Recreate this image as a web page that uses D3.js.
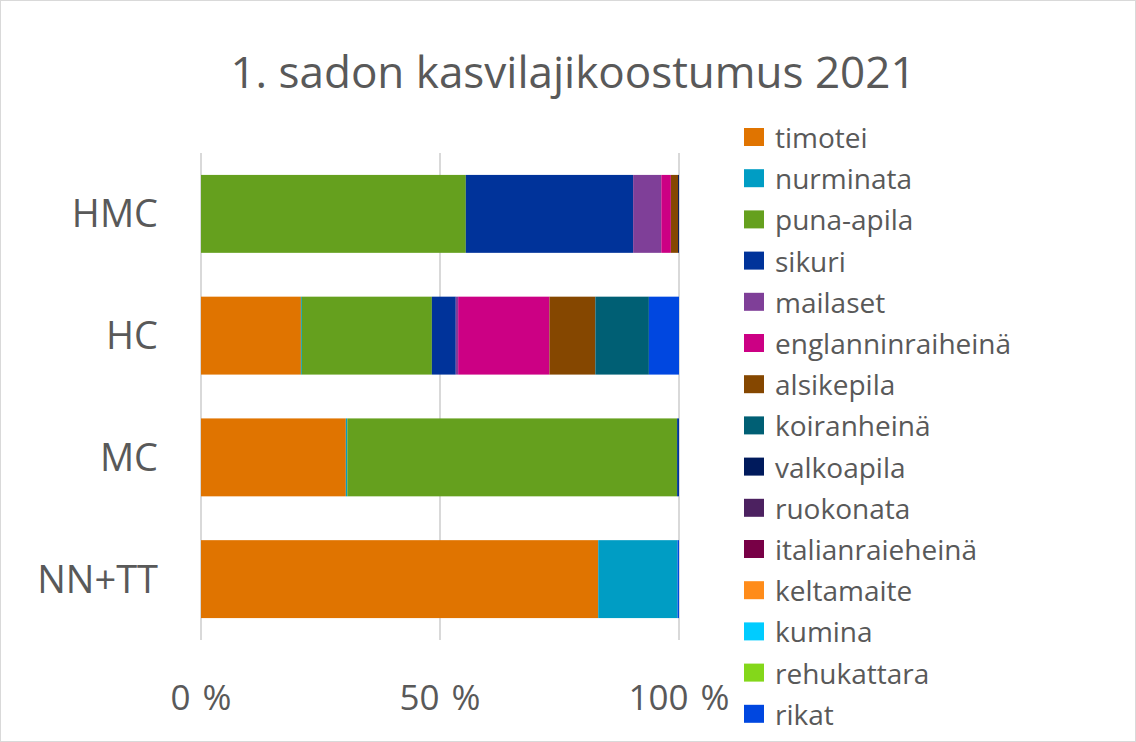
<!DOCTYPE html>
<html><head><meta charset="utf-8">
<script src="https://cdn.jsdelivr.net/npm/d3@7"></script>
<style>body{margin:0;background:#fff;} svg{display:block;font-family:"Open Sans","Noto Sans",sans-serif;}</style>
</head><body>
<svg id="c" width="1136" height="742"></svg>
<script>
const categories = ["HMC","HC","MC","NN+TT"];
const species = ["timotei","nurminata","puna-apila","sikuri","mailaset","englanninraiheinä","alsikepila","koiranheinä","valkoapila","ruokonata","italianraieheinä","keltamaite","kumina","rehukattara","rikat"];
const colors = ["#E07400","#009DC4","#65A01E","#00339A","#7F3F98","#CC0084","#854700","#005F74","#001A5C","#4C2160","#780046","#FF8C1A","#00CCFF","#84D71A","#0047E0"];
// values in % per category, order as species
const timotei          = [0,    20.9, 30.3, 83.1];
const nurminata        = [0,    0.2,  0.3,  16.6];
const punaApila        = [55.4, 27.2, 69.0, 0];
const sikuri           = [35.0, 5.0,  0.4,  0];
const mailaset         = [5.9,  0.5,  0,    0];
const englanninraiheina= [2.0,  19.1, 0,    0];
const alsikepila       = [1.5,  9.6,  0,    0];
const koiranheina      = [0,    11.2, 0,    0];
const valkoapila       = [0.2,  0,    0,    0];
const ruokonata        = [0,    0,    0,    0];
const italianraieheina = [0,    0,    0,    0];
const keltamaite       = [0,    0,    0,    0];
const kumina           = [0,    0,    0,    0];
const rehukattara      = [0,    0,    0,    0];
const rikat            = [0,    6.3,  0,    0.3];
const tickLabels = ["0 %","50 %","100 %"];
const title = "1. sadon kasvilajikoostumus 2021";

const seriesVals = [timotei,nurminata,punaApila,sikuri,mailaset,englanninraiheina,alsikepila,koiranheina,valkoapila,ruokonata,italianraieheina,keltamaite,kumina,rehukattara,rikat];
const rows = categories.map((c,i)=>{const r={cat:c}; species.forEach((s,j)=>r[s]=seriesVals[j][i]); return r;});
const stacked = d3.stack().keys(species).offset(d3.stackOffsetExpand)(rows);

const svg = d3.select("#c");
svg.append("rect").attr("x",0.5).attr("y",0.5).attr("width",1135).attr("height",741).attr("fill","#fff").attr("stroke","#d9d9d9");

const x = d3.scaleLinear().domain([0,1]).range([201,679]);
const y = d3.scaleBand().domain(categories).range([153,640]).paddingInner(0.36).paddingOuter(0.18);

// gridlines
svg.append("g").selectAll("line").data([0,0.5,1]).join("line")
  .attr("x1",d=>x(d)).attr("x2",d=>x(d)).attr("y1",153).attr("y2",640)
  .attr("stroke","#d9d9d9").attr("stroke-width",2);

svg.append("g").selectAll("g").data(stacked).join("g")
  .attr("fill",(d,i)=>colors[i])
  .selectAll("rect").data(d=>d).join("rect")
  .attr("x",d=>x(d[0])).attr("width",d=>Math.max(0,x(d[1])-x(d[0])))
  .attr("y",d=>y(d.data.cat)).attr("height",y.bandwidth());

// category labels
svg.append("g").selectAll("text").data(categories).join("text")
  .attr("x",158).attr("y",d=>y(d)+y.bandwidth()/2+13.5)
  .attr("text-anchor","end").attr("font-size",38).attr("fill","#595959").text(d=>d);

// x tick labels
svg.append("g").selectAll("text").data([0,0.5,1]).join("text")
  .attr("x",d=>x(d)).attr("y",710)
  .attr("text-anchor","middle").attr("font-size",35).attr("fill","#595959")
  .attr("word-spacing","3").text((d,i)=>tickLabels[i]);

svg.append("text").attr("x",573).attr("y",88).attr("text-anchor","middle")
  .attr("font-size",44).attr("fill","#595959").text(title);

// legend
const lg = svg.append("g").selectAll("g").data(species).join("g")
  .attr("transform",(d,i)=>`translate(744,${137+i*41.2})`);
lg.append("rect").attr("x",0).attr("y",-9).attr("width",20).attr("height",18).attr("fill",(d,i)=>colors[i]);
lg.append("text").attr("x",31).attr("y",11).attr("font-size",28).attr("fill","#595959").text(d=>d);
</script>
</body></html>
